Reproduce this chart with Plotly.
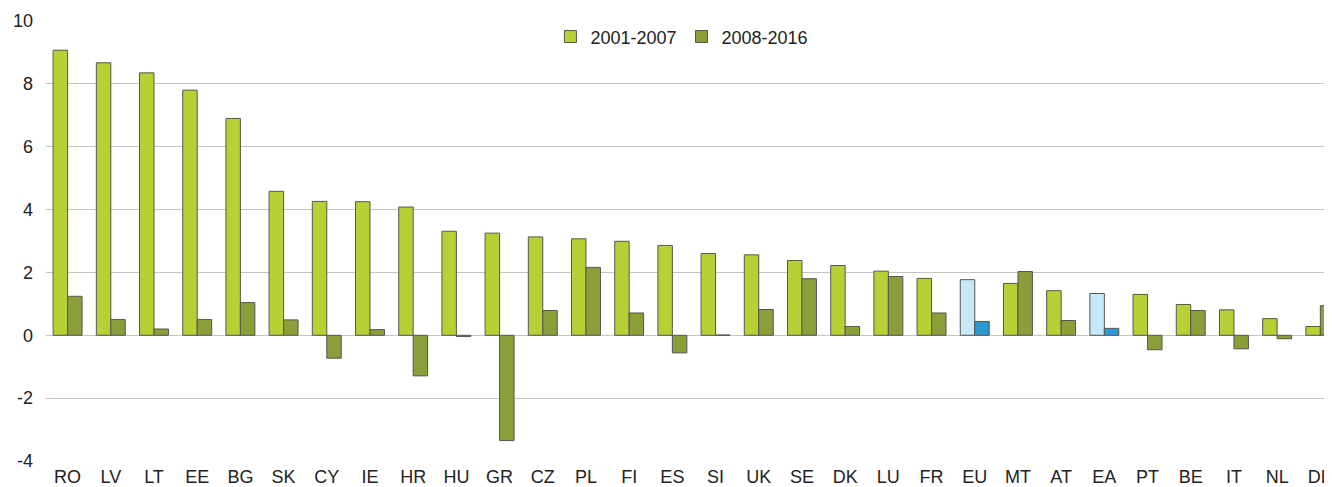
import plotly.graph_objects as go

countries = ["RO", "LV", "LT", "EE", "BG", "SK", "CY", "IE", "HR", "HU",
             "GR", "CZ", "PL", "FI", "ES", "SI", "UK", "SE", "DK", "LU",
             "FR", "EU", "MT", "AT", "EA", "PT", "BE", "IT", "NL", "DE"]
p2001_2007 = [9.07, 8.67, 8.35, 7.80, 6.90, 4.58, 4.26, 4.25, 4.08, 3.31,
              3.25, 3.13, 3.07, 2.99, 2.86, 2.60, 2.56, 2.38, 2.22, 2.04,
              1.81, 1.77, 1.65, 1.42, 1.33, 1.30, 0.98, 0.81, 0.53, 0.28]
p2008_2016 = [1.24, 0.50, 0.20, 0.50, 1.04, 0.49, -0.73, 0.18, -1.29, -0.04,
              -3.35, 0.79, 2.16, 0.71, -0.56, 0.01, 0.82, 1.80, 0.28, 1.87,
              0.71, 0.44, 2.03, 0.47, 0.22, -0.46, 0.79, -0.43, -0.11, 0.94]
aggregates = ["EU", "EA"]
y_ticks = [-4, -2, 0, 2, 4, 6, 8, 10]
y_tick_labels = ["-4", "-2", "0", "2", "4", "6", "8", "10"]

LIGHT_GREEN = "#B8D033"
DARK_GREEN = "#8A9E3A"
LIGHT_BLUE = "#C6E9F8"
BLUE = "#2B9AD0"

c1 = [LIGHT_BLUE if c in aggregates else LIGHT_GREEN for c in countries]
c2 = [BLUE if c in aggregates else DARK_GREEN for c in countries]

fig = go.Figure()
fig.add_trace(go.Bar(x=countries, y=p2001_2007, name="2001-2007",
                     marker=dict(color=c1, line=dict(color="#555555", width=1))))
fig.add_trace(go.Bar(x=countries, y=p2008_2016, name="2008-2016",
                     marker=dict(color=c2, line=dict(color="#555555", width=1))))

font = dict(family="Liberation Sans, Arial, sans-serif", size=18, color="#222222")
fig.update_layout(
    width=1324, height=479,
    margin=dict(l=38, r=0, t=13, b=26, autoexpand=False),
    paper_bgcolor="white", plot_bgcolor="white",
    barmode="group", bargap=0.33, bargroupgap=0,
    font=font,
    showlegend=True,
    legend=dict(orientation="h", x=0.4945, xanchor="center", y=0.964, yanchor="middle",
                font=font, bgcolor="rgba(0,0,0,0)", traceorder="normal"),
    xaxis=dict(range=[-0.5, 29.27], showgrid=False, showline=False, ticks="",
               tickfont=font, ticklabelstandoff=3, fixedrange=True, automargin=False),
    yaxis=dict(range=[-4, 10], tickvals=y_ticks, ticktext=y_tick_labels,
               showgrid=True, gridcolor="#C4C4C4",
               gridwidth=1, zeroline=True, zerolinecolor="#C4C4C4", zerolinewidth=1,
               showline=False, ticks="", tickfont=font, ticklabelstandoff=12,
               automargin=False),
)

fig.write_html("out.html")
